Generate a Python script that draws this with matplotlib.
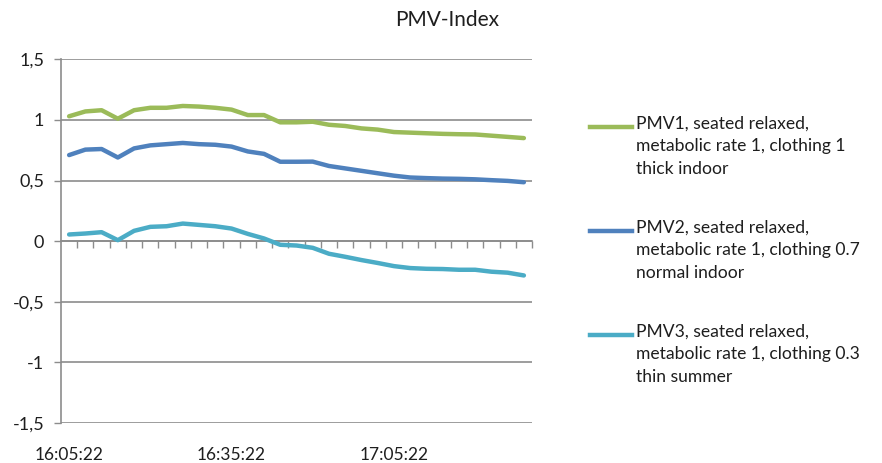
import matplotlib
matplotlib.use('Agg')

import numpy as np
import matplotlib.pyplot as plt
from matplotlib.lines import Line2D
from matplotlib.ticker import FixedLocator, NullFormatter

plt.rcParams['font.family'] = ['Lato', 'DejaVu Sans']

# sample times, one every 3 minutes
times = ["16:05:22", "16:08:22", "16:11:22", "16:14:22", "16:17:22", "16:20:22",
         "16:23:22", "16:26:22", "16:29:22", "16:32:22", "16:35:22", "16:38:22",
         "16:41:22", "16:44:22", "16:47:22", "16:50:22", "16:53:22", "16:56:22",
         "16:59:22", "17:02:22", "17:05:22", "17:08:22", "17:11:22", "17:14:22",
         "17:17:22", "17:20:22", "17:23:22", "17:26:22", "17:29:22"]

pmv1 = [1.03, 1.07, 1.08, 1.01, 1.08, 1.10, 1.10, 1.115, 1.11, 1.10,
        1.085, 1.04, 1.04, 0.98, 0.98, 0.985, 0.96, 0.95, 0.93, 0.92,
        0.90, 0.895, 0.89, 0.885, 0.882, 0.88, 0.87, 0.86, 0.85]
pmv2 = [0.71, 0.755, 0.76, 0.69, 0.765, 0.79, 0.80, 0.81, 0.80, 0.795,
        0.78, 0.74, 0.72, 0.655, 0.655, 0.656, 0.62, 0.60, 0.58, 0.56,
        0.54, 0.525, 0.52, 0.516, 0.514, 0.51, 0.503, 0.497, 0.486]
pmv3 = [0.055, 0.063, 0.074, 0.008, 0.085, 0.118, 0.123, 0.145, 0.134, 0.123,
        0.104, 0.06, 0.022, -0.03, -0.036, -0.055, -0.104, -0.129, -0.156, -0.18,
        -0.206, -0.222, -0.228, -0.23, -0.236, -0.236, -0.252, -0.26, -0.283]

labels = ["PMV1, seated relaxed,\nmetabolic rate 1, clothing 1\nthick indoor",
          "PMV2, seated relaxed,\nmetabolic rate 1, clothing 0.7\nnormal indoor",
          "PMV3, seated relaxed,\nmetabolic rate 1, clothing 0.3\nthin summer"]
colors = ['#9BBB59', '#4F81BD', '#4BACC6']

yticks = [-1.5, -1, -0.5, 0, 0.5, 1, 1.5]
ytick_labels = ["-1,5", "-1", "-0,5", "0", "0,5", "1", "1,5"]

W, H = 882, 463
fig = plt.figure(figsize=(W / 100, H / 100), dpi=100)
ax = fig.add_axes([61 / W, 1 - 423 / H, (532 - 61) / W, (423 - 59.3) / H])

x = np.arange(len(times))
for series, c in zip([pmv1, pmv2, pmv3], colors):
    ax.plot(x, series, color=c, linewidth=3.2, solid_capstyle='round', solid_joinstyle='round', zorder=3)

grid_c = '#8c8c8c'
txt_c = '#1e1e1e'
ax.set_xlim(-0.5, len(times) - 0.5)
ax.set_ylim(-1.5, 1.5)
ax.set_yticks(yticks)
ax.set_yticklabels(ytick_labels)
ax.tick_params(axis='y', length=5, width=1, color=grid_c, pad=7, labelsize=13, labelcolor=txt_c)
ax.yaxis.grid(True, color=grid_c, linewidth=1.2)
ax.set_axisbelow(True)

for s in ['top', 'right']:
    ax.spines[s].set_visible(False)
ax.spines['left'].set_color(grid_c)
ax.spines['left'].set_linewidth(1.2)

# category axis crossing at zero
ax.spines['bottom'].set_position(('data', 0))
ax.spines['bottom'].set_color(grid_c)
ax.spines['bottom'].set_linewidth(1.2)
ax.xaxis.set_major_locator(FixedLocator(np.arange(0.5, len(times), 1.0)))
ax.xaxis.set_major_formatter(NullFormatter())
ax.tick_params(axis='x', length=5, width=1, color=grid_c, direction='out')

# time labels below the plot area
sec = ax.secondary_xaxis(-0.0)
sec.set_xticks(x[::10])
sec.set_xticklabels([times[i] for i in x[::10]])
sec.tick_params(length=0, pad=17, labelsize=12.5, labelcolor=txt_c)
sec.spines['bottom'].set_visible(False)

fig.text(447 / W, 1 - 20 / H, "PMV-Index", ha='center', va='center', fontsize=15, color=txt_c)

# legend
leg_y = [127, 231, 335]
for yy, lab, c in zip(leg_y, labels, colors):
    fig.add_artist(Line2D([590 / W, 632 / W], [1 - yy / H, 1 - yy / H], color=c, linewidth=3.2,
                          transform=fig.transFigure))
    fig.text(636 / W, 1 - (yy - 11) / H, lab, ha='left', va='top', fontsize=12.6,
             linespacing=1.5, color=txt_c)

fig.savefig('out.png', dpi=100)
